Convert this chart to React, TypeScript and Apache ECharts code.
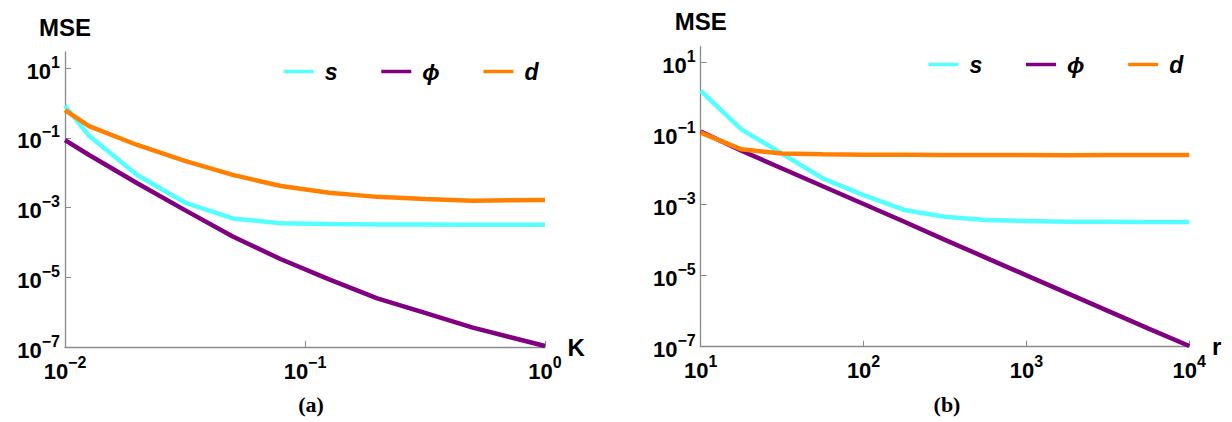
import React, { useEffect, useRef } from 'react';
import * as echarts from 'echarts';

// ---------- data ----------
const seriesNames = ['s', 'ϕ', 'd'];
const seriesColors = ['#55FFFF', '#800080', '#FF8000'];

// panel (a): MSE vs K
const kValues = [0.01, 0.0126, 0.02, 0.0316, 0.05, 0.0794, 0.126, 0.2, 0.316, 0.5, 1];
const kS = [0.85, 0.115, 0.0087, 0.0014, 0.00049, 0.000355, 0.00034, 0.00033, 0.00033, 0.000324, 0.000324];
const kPhi = [0.087, 0.0324, 0.005, 0.00085, 0.000148, 0.000033, 0.0000087, 0.0000025, 0.00000095, 0.00000036, 0.000000107];
const kD = [0.63, 0.219, 0.063, 0.0219, 0.0087, 0.00417, 0.00269, 0.00204, 0.00178, 0.00158, 0.00166];

// panel (b): MSE vs r
const rValues = [10, 17.8, 31.6, 56.2, 100, 178, 316, 562, 1000, 1778, 3162, 5623, 10000];
const rS = [1.62, 0.132, 0.0275, 0.0055, 0.00186, 0.00071, 0.000457, 0.000372, 0.000347, 0.000331, 0.000331, 0.000324, 0.000324];
const rPhi = [0.115, 0.0331, 0.0105, 0.00331, 0.00105, 0.000331, 0.000102, 0.0000324, 0.0000102, 0.00000324, 0.00000102, 0.000000324, 0.000000105];
const rD = [0.107, 0.0363, 0.0275, 0.0263, 0.0257, 0.0257, 0.0251, 0.0251, 0.0251, 0.0245, 0.0251, 0.0251, 0.0251];

// tick values
const yTicks = [1e-7, 1e-5, 1e-3, 1e-1, 10];
const kTicks = [0.01, 0.1, 1];
const rTicks = [10, 100, 1000, 10000];

const captions = ['(a)', '(b)'];

// ---------- styles ----------
const FONT = '"Liberation Sans", Arial, Helvetica, sans-serif';
const SERIF = '"Liberation Serif", "Times New Roman", serif';
const AXIS_COLOR = '#8a8a8a';

const pow10 = (v: number) => {
  const e = Math.round(Math.log10(v));
  const es = e < 0 ? '\u2212' + String(-e) : String(e);
  return `{b|10}{e|${es}}`;
};

const labelRich = {
  b: { fontSize: 22, fontWeight: 'bold', fontFamily: FONT, color: '#000', lineHeight: 28, verticalAlign: 'bottom' },
  e: { fontSize: 16, fontWeight: 'bold', fontFamily: FONT, color: '#000', lineHeight: 16, verticalAlign: 'top' },
};

const axisLine = { show: true, onZero: false, lineStyle: { color: AXIS_COLOR, width: 1.3 } };
const makeTick = (vals: number[]) => ({
  show: true,
  inside: true,
  length: 6,
  customValues: vals,
  lineStyle: { color: AXIS_COLOR, width: 1 },
});
const makeLabel = (vals: number[], margin: number) => ({
  show: true,
  customValues: vals,
  margin,
  formatter: (v: number) => pow10(v),
  rich: labelRich,
});

const nameStyle = { fontSize: 24, fontWeight: 'bold', fontFamily: FONT, color: '#000' };

const legendBase = {
  data: seriesNames,
  orient: 'horizontal',
  padding: 0,
  itemWidth: 30,
  itemHeight: 14,
  itemGap: 42,
  lineStyle: { width: 3.5 },
  itemStyle: { opacity: 0, borderWidth: 0 },
  textStyle: {
    fontSize: 23,
    fontWeight: 'bold',
    fontStyle: 'italic',
    fontFamily: FONT,
    color: '#000',
    padding: [0, 0, 0, 6],
  },
};

const makeSeries = (xs: number[], ys: number[], idx: number, axis: number) => ({
  name: seriesNames[idx],
  type: 'line',
  xAxisIndex: axis,
  yAxisIndex: axis,
  data: xs.map((x, i) => [x, ys[i]]),
  symbol: 'none',
  lineStyle: { width: 4.5, color: seriesColors[idx] },
  itemStyle: { color: seriesColors[idx] },
  z: 2 + idx,
});

export default function App() {
  const ref = useRef<HTMLDivElement>(null);

  useEffect(() => {
    if (!ref.current) return;
    const chart = echarts.init(ref.current, null, { renderer: 'svg' });
    const option = {
      animation: false,
      backgroundColor: '#fff',
      textStyle: { fontFamily: FONT },
      grid: [
        { left: 65, top: 52, width: 480, height: 295, containLabel: false },
        { left: 700.7, top: 46.7, width: 488.6, height: 300, containLabel: false },
      ],
      legend: [
        { ...legendBase, left: 282, top: 60 },
        { ...legendBase, left: 926.7, top: 53 },
      ],
      xAxis: [
        {
          type: 'log', logBase: 10, gridIndex: 0, min: 0.01, max: 1,
          axisLine, axisTick: makeTick(kTicks), axisLabel: makeLabel(kTicks, 7),
          splitLine: { show: false }, minorTick: { show: false },
          name: 'K', nameLocation: 'end', nameGap: 17,
          nameTextStyle: { ...nameStyle, padding: [6, 0, 0, 0] },
        },
        {
          type: 'log', logBase: 10, gridIndex: 1, min: 10, max: 10000,
          axisLine, axisTick: makeTick(rTicks), axisLabel: makeLabel(rTicks, 7),
          splitLine: { show: false }, minorTick: { show: false },
          name: 'r', nameLocation: 'end', nameGap: 18,
          nameTextStyle: { ...nameStyle },
        },
      ],
      yAxis: [
        {
          type: 'log', logBase: 10, gridIndex: 0, min: 1e-7, max: 29.4,
          axisLine, axisTick: makeTick(yTicks), axisLabel: makeLabel(yTicks, 5),
          splitLine: { show: false }, minorTick: { show: false },
          name: 'MSE', nameLocation: 'end', nameGap: 13,
          nameTextStyle: { ...nameStyle, align: 'center' },
        },
        {
          type: 'log', logBase: 10, gridIndex: 1, min: 1e-7, max: 28.2,
          axisLine, axisTick: makeTick(yTicks), axisLabel: makeLabel(yTicks, 5),
          splitLine: { show: false }, minorTick: { show: false },
          name: 'MSE', nameLocation: 'end', nameGap: 13,
          nameTextStyle: { ...nameStyle, align: 'center' },
        },
      ],
      series: [
        makeSeries(kValues, kS, 0, 0),
        makeSeries(kValues, kPhi, 1, 0),
        makeSeries(kValues, kD, 2, 0),
        makeSeries(rValues, rS, 0, 1),
        makeSeries(rValues, rPhi, 1, 1),
        makeSeries(rValues, rD, 2, 1),
      ],
      graphic: [
        {
          type: 'text', x: 311, y: 404,
          style: { text: captions[0], font: `bold 22px ${SERIF}`, fill: '#000', textAlign: 'center', textVerticalAlign: 'middle' },
        },
        {
          type: 'text', x: 947, y: 404,
          style: { text: captions[1], font: `bold 22px ${SERIF}`, fill: '#000', textAlign: 'center', textVerticalAlign: 'middle' },
        },
      ],
    };
    chart.setOption(option as any);
    return () => chart.dispose();
  }, []);

  return (
    <div
      ref={ref}
      style={{ position: 'absolute', left: 0, top: 0, width: 1232, height: 422, background: '#fff' }}
    />
  );
}
